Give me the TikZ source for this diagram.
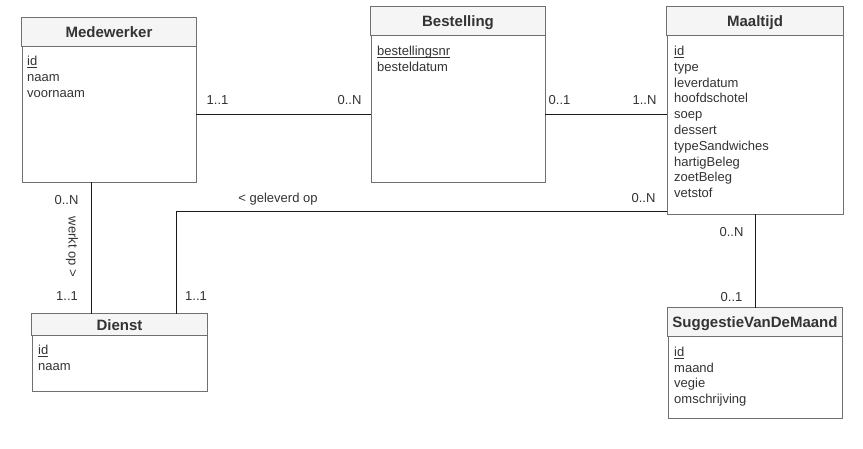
\documentclass[tikz,border=0pt]{standalone}
\usepackage{fontspec}
\setmainfont{Liberation Sans}
\usetikzlibrary{calc}
\definecolor{boxline}{HTML}{707070}
\definecolor{headfill}{HTML}{F5F5F5}
\definecolor{titlecol}{HTML}{333333}
\definecolor{wire}{HTML}{1A1A1A}
\newcommand\keyul[1]{\setbox0\hbox{#1}\rlap{\rule[-1.9pt]{\wd0}{0.8pt}}\box0}
\tikzset{
  entity/.style={draw=boxline, line width=0.9pt, rectangle, inner sep=0pt, fill=white},
  header/.style={fill=headfill, draw=boxline, line width=0.9pt},
  title/.style={anchor=base, inner sep=0pt, text=titlecol, font=\fontsize{15}{18}\selectfont\bfseries},
  attr/.style={anchor=base west, inner sep=0pt, text=titlecol, font=\fontsize{13}{15.8}\selectfont},
  lbl/.style={anchor=base, inner sep=0pt, text=titlecol, font=\fontsize{13}{15.8}\selectfont},
  wireline/.style={draw=wire, line width=0.9pt}
}
\begin{document}
\begin{tikzpicture}[x=1pt,y=-1pt]
\useasboundingbox (0,0) rectangle (863,449);
\fill[white] (0,0) rectangle (863,449);

% entity boxes
\node[entity, minimum width=174pt, minimum height=164pt] (med) at (109,100) {};
\node[entity, minimum width=174pt, minimum height=175pt] (bes) at (458,94.5) {};
\node[entity, minimum width=176pt, minimum height=207pt] (maal) at (755,110.5) {};
\node[entity, minimum width=175pt, minimum height=77pt] (die) at (119.5,352.5) {};
\node[entity, minimum width=174pt, minimum height=110pt] (sug) at (755,363) {};

% headers
\draw[header] (med.north west) rectangle ($(med.north east)+(0,29)$);
\draw[header] (bes.north west) rectangle ($(bes.north east)+(0,29)$);
\draw[header] (maal.north west) rectangle ($(maal.north east)+(0,29)$);
\draw[header] (die.north west) rectangle ($(die.north east)+(0,22)$);
\draw[header] (sug.north west) rectangle ($(sug.north east)+(0,29)$);

% titles
\node[title] (med-t) at (109,38) {Medewerker};
\node[title] (bes-t) at (458,27) {Bestelling};
\node[title] (maal-t) at (755,27) {Maaltijd};
\node[title] (die-t) at (119.5,330.4) {Dienst};
\node[title] (sug-t) at (755,328) {SuggestieVanDeMaand};

% attributes
\node[attr] (med-a0) at (27,65.5) {\keyul{id}};
\node[attr] (med-a1) at (27,81.3) {naam};
\node[attr] (med-a2) at (27,97.1) {voornaam};

\node[attr] (bes-a0) at (377,55.5) {\keyul{bestellingsnr}};
\node[attr] (bes-a1) at (377,71.3) {besteldatum};

\node[attr] (maal-a0) at (674,55.5) {\keyul{id}};
\foreach \t [count=\i] in {type,leverdatum,hoofdschotel,soep,dessert,typeSandwiches,hartigBeleg,zoetBeleg,vetstof}
  \node[attr] (maal-a\i) at (674,55.5+15.8*\i) {\t};

\node[attr] (die-a0) at (38,354.5) {\keyul{id}};
\node[attr] (die-a1) at (38,370.3) {naam};

\node[attr] (sug-a0) at (674,356.5) {\keyul{id}};
\foreach \t [count=\i] in {maand,vegie,omschrijving}
  \node[attr] (sug-a\i) at (674,356.5+15.6*\i) {\t};

% connectors
\draw[wireline] ([yshift=-14pt]med.east) -- ([yshift=-14pt]med.east -| bes.west);
\draw[wireline] ([yshift=-19.5pt]bes.east) -- ([yshift=-19.5pt]bes.east -| maal.west);
\draw[wireline] ([xshift=-18pt]med.south) -- ([xshift=-18pt]med.south |- die.north);
\draw[wireline] ([yshift=-101pt]maal.west) -| ([xshift=56.5pt]die.north);
\draw[wireline] (maal.south) -- (sug.north);

% labels
\node[lbl] (l1) at (217.5,104.6) {1..1};
\node[lbl] (l2) at (349.5,104.6) {0..N};
\node[lbl] (l3) at (559.5,104.6) {0..1};
\node[lbl] (l4) at (644.5,104.6) {1..N};
\node[lbl] (l5) at (66.5,204.6) {0..N};
\node[lbl] (l6) at (67,300.6) {1..1};
\node[lbl] (l7) at (196,300.6) {1..1};
\node[lbl] (l8) at (278,202.6) {< geleverd op};
\node[lbl] (l9) at (643.5,202.6) {0..N};
\node[lbl] (l10) at (731.5,236.6) {0..N};
\node[lbl] (l11) at (731.5,301.6) {0..1};
\node[anchor=center, inner sep=0pt, text=titlecol, font=\fontsize{13}{15.8}\selectfont, rotate=-90] (l12) at (72,247) {werkt op >};
\end{tikzpicture}
\end{document}
